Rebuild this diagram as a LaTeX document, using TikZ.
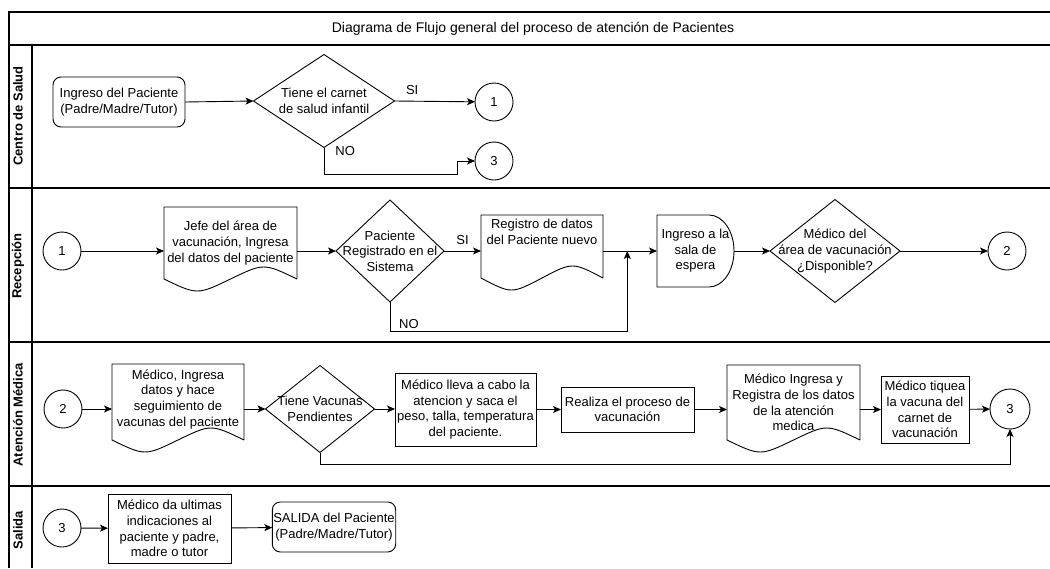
\documentclass[tikz,border=0pt]{standalone}
\usepackage{fontspec}
\setmainfont{Liberation Sans}
\usetikzlibrary{arrows.meta, calc, shapes.geometric}

% box with a wavy bottom (document)
\newcommand{\docedge}[1]{%
  \draw (#1.south east) -- (#1.north east) -- (#1.north west) -- (#1.south west)
    .. controls ($(#1.south west)!0.5!(#1.south)+(0,-16pt)$) .. (#1.south)
    .. controls ($(#1.south)!0.5!(#1.south east)+(0,16pt)$) .. (#1.south east);}
% box with a rounded right side (delay)
\newcommand{\delayedge}[1]{%
  \draw (#1.north west) -- ($(#1.north east)+(-25pt,0)$)
    arc[start angle=90, end angle=-90, x radius=25pt, y radius=36pt]
    -- (#1.south west) -- cycle;}

\begin{document}
\begin{tikzpicture}[x=1pt, y=-1pt, line width=0.9pt,
    font=\fontsize{13}{15.6}\selectfont,
    >={Stealth[length=8pt,width=7pt,inset=2pt]},
    proc/.style={draw, rectangle, align=center, inner sep=1pt, outer sep=0pt},
    term/.style={proc, rounded corners=8pt},
    doc/.style={rectangle, align=center, inner sep=1pt, outer sep=0pt},
    dec/.style={draw, diamond, inner sep=0pt, outer sep=0pt},
    conn/.style={draw, circle, minimum size=38pt, inner sep=0pt, outer sep=0pt},
    lane/.style={rotate=90, font=\fontsize{13}{15.6}\selectfont\bfseries},
    lanes/.style={line width=1.2pt}]
  \useasboundingbox (0,0) rectangle (1050,568);

  % pool and lanes
  \draw[lanes] (9,568) -- (9,12) -- (1050,12);
  \foreach \y in {45,188,342,486}
    \draw[lanes] (9,\y) -- (1050,\y);
  \draw[lanes] (32,45) -- (32,568);
  \node[font=\fontsize{14}{16}\selectfont] (title) at (533,29)
    {Diagrama de Flujo general del proceso de atención de Pacientes};
  \node[lane] (l1) at (18,116) {Centro de Salud};
  \node[lane] (l2) at (18,266) {Recepción};
  \node[lane] (l3) at (18,415) {Atención Médica};
  \node[lane] (l4) at (18,530) {Salida};

  % Centro de Salud
  \node[term, minimum width=132pt, minimum height=50pt] (ing) at (119,102)
    {Ingreso del Paciente\\(Padre/Madre/Tutor)};
  \node[dec, minimum width=141pt, minimum height=93pt,
    label={[align=center]center:{Tiene el carnet\\de salud infantil}}] (car) at (324,101) {};
  \node[conn] (c1) at (494,102) {1};
  \node[conn] (c3) at (494,161) {3};

  \draw[->] (ing.east) -- (car.west);
  \draw[->] (car.east) -- node[pos=0.22, above=5pt, inner sep=1pt] {SI} (c1);
  \draw[->] (car.south) |- node[at start, anchor=west, xshift=10pt, yshift=-4pt, inner sep=1pt] {NO}
    ($(c3.west)+(-18,13)$) |- (c3.west);

  % Recepcion
  \node[conn] (r1) at (62,251) {1};
  \node[doc, minimum width=133pt, minimum height=72pt] (jefe) at (230.5,243)
    {Jefe del área de\\vacunación, Ingresa\\del datos del paciente};
  \node[dec, minimum width=108pt, minimum height=102pt,
    label={[align=center]center:{Paciente\\Registrado en el\\Sistema}}] (reg) at (390,251) {};
  \node[doc, minimum width=122pt, minimum height=63pt, text depth=30pt] (regd) at (542,246.5)
    {Registro de datos\\del Paciente nuevo};
  \node[doc, minimum width=77pt, minimum height=72pt] (sala) at (695.5,251)
    {Ingreso a la\\sala de\\espera};
  \node[dec, minimum width=130pt, minimum height=103pt,
    label={[align=center]center:{Médico del\\área de vacunación\\¿Disponible?}}] (disp) at (835,251) {};
  \node[conn] (c2) at (1007,251) {2};
  \coordinate (join) at ($(regd.east |- sala.west)!0.45!(sala.west)$);

  \draw[->] (r1) -- (r1 -| jefe.west);
  \draw[->] (jefe.east |- reg) -- (reg.west);
  \draw[->] (reg.east) -- node[midway, above=5pt, inner sep=1pt] {SI} (reg.east -| regd.west);
  \draw[->] (regd.east |- sala) -- (sala.west);
  \draw[->] (reg.south) |- node[pos=0.54, anchor=south, yshift=1pt, inner sep=1pt] {NO}
    ($(join)+(0,80)$) -- (join);
  \draw[->] (sala.east) -- (disp.west);
  \draw[->] (disp.east) -- (c2);

  % Atencion Medica
  \node[conn] (a2) at (63,409) {2};
  \node[doc, minimum width=132pt, minimum height=76pt, text depth=8pt] (med) at (178,402)
    {Médico, Ingresa\\datos y hace\\seguimiento de\\vacunas del paciente};
  \node[dec, minimum width=109pt, minimum height=87pt,
    label={[align=center]center:{Tiene Vacunas\\Pendientes}}] (vac) at (320,409) {};
  \node[proc, minimum width=141pt, minimum height=73pt] (lleva) at (465.5,409.5)
    {Médico lleva a cabo la\\atencion y saca el\\peso, talla, temperatura\\del paciente.};
  \node[proc, minimum width=133pt, minimum height=45pt] (vacun) at (627.5,409.5)
    {Realiza el proceso de\\vacunación};
  \node[doc, minimum width=133pt, minimum height=75pt] (datos) at (793.5,402.5)
    {Médico Ingresa y\\Registra de los datos\\de la atención\\medica};
  \node[proc, minimum width=88pt, minimum height=67pt] (tiq) at (925,409.5)
    {Médico tiquea\\la vacuna del\\carnet de\\vacunación};
  \node[conn, minimum size=40pt] (a3) at (1010,409) {3};

  \draw[->] (a2) -- (a2 -| med.west);
  \draw[->] (med.east |- vac) -- (vac.west);
  \draw[->] (vac.east) -- (vac.east -| lleva.west);
  \draw[->] (lleva) -- (vacun);
  \draw[->] (vacun.east) -- (vacun.east -| datos.west);
  \draw[->] (datos.east |- tiq) -- (tiq.west);
  \draw[->] (tiq) -- (a3);
  \draw[->] (vac.south) |- ($(a3.south)+(0,35)$) -- (a3.south);

  % Salida
  \node[conn] (s3) at (62,528) {3};
  \node[proc, minimum width=123pt, minimum height=69pt] (ult) at (169.5,528.5)
    {Médico da ultimas\\indicaciones al\\paciente y padre,\\madre o tutor};
  \node[term, minimum width=122pt, minimum height=50pt] (salida) at (334,527)
    {SALIDA del Paciente\\(Padre/Madre/Tutor)};

  \draw[->] (s3) -- (ult);
  \draw[->] (ult) -- (salida);

  % outlines
  \docedge{jefe}
  \docedge{regd}
  \docedge{med}
  \docedge{datos}
  \delayedge{sala}
\end{tikzpicture}
\end{document}
